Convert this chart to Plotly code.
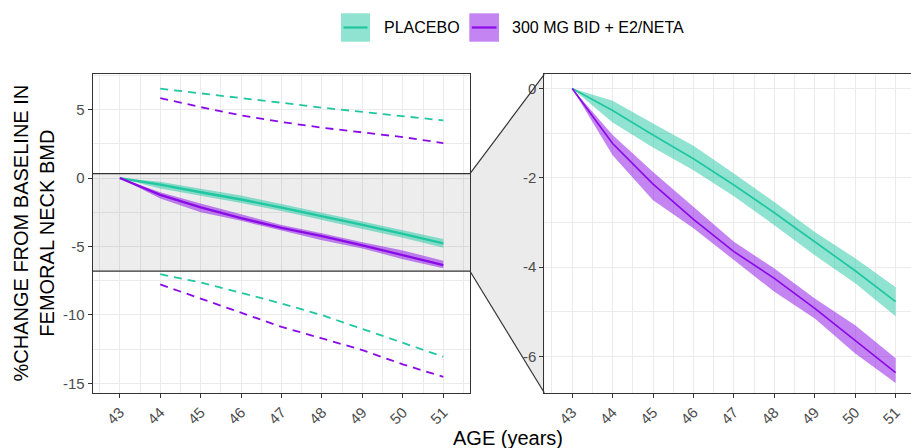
import plotly.graph_objects as go

# ---------------- data ----------------
ages = [43, 44, 45, 46, 47, 48, 49, 50, 51]
ages_pi = [44, 45, 46, 47, 48, 49, 50, 51]

placebo_mean = [0, -0.49, -1.04, -1.57, -2.16, -2.78, -3.43, -4.08, -4.77]
placebo_upper = [0, -0.27, -0.78, -1.28, -1.90, -2.54, -3.21, -3.80, -4.45]
placebo_lower = [0, -0.76, -1.32, -1.83, -2.41, -3.06, -3.73, -4.36, -5.10]

treat_mean = [0, -1.23, -2.14, -2.93, -3.65, -4.25, -4.92, -5.63, -6.36]
treat_upper = [0, -1.04, -1.87, -2.65, -3.43, -4.03, -4.70, -5.30, -6.04]
treat_lower = [0, -1.49, -2.50, -3.13, -3.84, -4.55, -5.15, -5.93, -6.59]

placebo_pi_upper = [6.53, 6.20, 5.84, 5.50, 5.14, 4.82, 4.50, 4.21]
placebo_pi_lower = [-7.03, -7.64, -8.39, -9.17, -10.02, -11.04, -12.09, -13.06]
treat_pi_upper = [5.84, 5.18, 4.58, 4.09, 3.68, 3.36, 2.99, 2.55]
treat_pi_lower = [-7.78, -8.80, -9.83, -10.88, -11.72, -12.58, -13.62, -14.53]

series_names = ["PLACEBO", "300 MG BID + E2/NETA"]
x_ticks = ages
x_ticktext = [str(a) for a in ages]
left_yticks = [5, 0, -5, -10, -15]
left_yticktext = ["5", "0", "-5", "-10", "-15"]
right_yticks = [0, -2, -4, -6]
right_yticktext = ["0", "-2", "-4", "-6"]
zoom_range = [-6.81, 0.32]

# ---------------- style ----------------
W, H = 911, 448
FONT = "Liberation Sans, Arial, Helvetica, sans-serif"
TEAL = "#20C7A1"
TEAL_FILL = "rgba(32,199,161,0.5)"
PURP = "#8A0BE6"
PURP_FILL = "rgba(138,11,230,0.5)"
DARK = "#333333"
GRID = "#EBEBEB"

left_dom_x = [92.7 / W, 470 / W]
right_dom_x = [544.3 / W, 1.0]
dom_y = [1 - 392.7 / H, 1 - 74.3 / H]
left_xrange = [42.33, 51.66]
right_xrange = [42.31, 51.38]
left_yrange = [-15.69, 7.58]

fig = go.Figure()


def ribbon(x, lo, hi, color, xa, ya):
    return go.Scatter(x=list(x) + list(x)[::-1], y=list(hi) + list(lo)[::-1],
                      fill="toself", fillcolor=color, line=dict(width=0),
                      mode="lines", hoverinfo="skip", showlegend=False,
                      xaxis=xa, yaxis=ya)


for xa, ya, lw in [("x", "y", 2.3), ("x2", "y2", 1.7)]:
    fig.add_trace(ribbon(ages, placebo_lower, placebo_upper, TEAL_FILL, xa, ya))
    fig.add_trace(ribbon(ages, treat_lower, treat_upper, PURP_FILL, xa, ya))
    fig.add_trace(go.Scatter(x=ages, y=placebo_mean, mode="lines",
                             line=dict(color=TEAL, width=lw), showlegend=False,
                             xaxis=xa, yaxis=ya))
    fig.add_trace(go.Scatter(x=ages, y=treat_mean, mode="lines",
                             line=dict(color=PURP, width=lw), showlegend=False,
                             xaxis=xa, yaxis=ya))

for yv, col in [(placebo_pi_upper, TEAL), (placebo_pi_lower, TEAL),
                (treat_pi_upper, PURP), (treat_pi_lower, PURP)]:
    fig.add_trace(go.Scatter(x=ages_pi, y=yv, mode="lines",
                             line=dict(color=col, width=1.8, dash="8px,6px"),
                             showlegend=False, xaxis="x", yaxis="y"))

axis_common = dict(showgrid=True, gridcolor=GRID, gridwidth=1.1, zeroline=False,
                   showline=True, linecolor=DARK, linewidth=1.1,
                   ticks="outside", ticklen=4, tickwidth=1.1, tickcolor=DARK,
                   tickfont=dict(family=FONT, size=15, color="#4D4D4D"))

fig.update_layout(
    width=W, height=H, margin=dict(l=0, r=0, t=0, b=0),
    plot_bgcolor="white", paper_bgcolor="white", showlegend=False,
    xaxis=dict(domain=left_dom_x, range=left_xrange, tickmode="array",
               tickvals=x_ticks, ticktext=x_ticktext, tickangle=-45, mirror=True,
               minor=dict(tick0=42.5, dtick=1, showgrid=True, gridcolor=GRID,
                          gridwidth=0.6, ticks=""),
               anchor="y", **axis_common),
    yaxis=dict(domain=dom_y, range=left_yrange, tickmode="array",
               tickvals=left_yticks, ticktext=left_yticktext, mirror=True,
               minor=dict(tick0=2.5, dtick=5, showgrid=True, gridcolor=GRID,
                          gridwidth=0.6, ticks=""),
               anchor="x", **axis_common),
    xaxis2=dict(domain=right_dom_x, range=right_xrange, tickmode="array",
                tickvals=x_ticks, ticktext=x_ticktext, tickangle=-45, mirror=True,
                minor=dict(tick0=42.5, dtick=1, showgrid=True, gridcolor=GRID,
                           gridwidth=0.6, ticks=""),
                anchor="y2", **axis_common),
    yaxis2=dict(domain=dom_y, range=zoom_range, tickmode="array",
                tickvals=right_yticks, ticktext=right_yticktext, mirror=False,
                minor=dict(tick0=-1, dtick=2, showgrid=True, gridcolor=GRID,
                           gridwidth=0.6, ticks=""),
                anchor="x2", **axis_common),
)

# zoom band in the left panel (semi-transparent, above the grid, below the data)
fig.add_shape(type="rect", xref="x", yref="y", x0=left_xrange[0], x1=left_xrange[1],
              y0=zoom_range[0], y1=zoom_range[1],
              fillcolor="rgba(0,0,0,0.07)", line=dict(width=0), layer="between")
for v in zoom_range:
    fig.add_shape(type="line", xref="x", yref="y", x0=left_xrange[0], x1=left_xrange[1],
                  y0=v, y1=v, line=dict(color=DARK, width=1.2), layer="above")


# connector polygon between panels (paper coords derived from axis ranges)
def left_paper_y(v):
    return dom_y[0] + (v - left_yrange[0]) / (left_yrange[1] - left_yrange[0]) * (dom_y[1] - dom_y[0])


xa1, xb0 = left_dom_x[1], right_dom_x[0]
yt, yb = left_paper_y(zoom_range[1]), left_paper_y(zoom_range[0])
path = (f"M {xa1},{yt} L {xb0},{dom_y[1]} L {xb0},{dom_y[0]} L {xa1},{yb} Z")
fig.add_shape(type="path", xref="paper", yref="paper", path=path,
              fillcolor="#EBEBEB", line=dict(width=0), layer="below")
fig.add_shape(type="line", xref="paper", yref="paper", x0=xa1, y0=yt, x1=xb0, y1=dom_y[1],
              line=dict(color=DARK, width=1.2))
fig.add_shape(type="line", xref="paper", yref="paper", x0=xa1, y0=yb, x1=xb0, y1=dom_y[0],
              line=dict(color=DARK, width=1.2))

# legend (ggplot-style square keys)
legend_cy = 1 - 27.5 / H
key_h = 28.4 / H
keys = [(341 / W, 370 / W, 381.5 / W, TEAL, TEAL_FILL, series_names[0]),
        (469.3 / W, 499 / W, 510 / W, PURP, PURP_FILL, series_names[1])]
for x0, x1, xt, lc, fc, name in keys:
    fig.add_shape(type="rect", xref="paper", yref="paper", x0=x0, x1=x1,
                  y0=legend_cy - key_h / 2, y1=legend_cy + key_h / 2,
                  fillcolor=fc, line=dict(width=0))
    fig.add_shape(type="line", xref="paper", yref="paper", x0=x0 + 2.5 / W, x1=x1 - 2.5 / W,
                  y0=legend_cy, y1=legend_cy, line=dict(color=lc, width=2.2))
    fig.add_annotation(x=xt, y=legend_cy, xref="paper", yref="paper", text=name,
                       showarrow=False, xanchor="left", yanchor="middle",
                       font=dict(family=FONT, size=16, color="black"))

# axis titles
fig.add_annotation(x=33 / W, y=(dom_y[0] + dom_y[1]) / 2, xref="paper", yref="paper",
                   text="%CHANGE FROM BASELINE IN<br>FEMORAL NECK BMD", textangle=-90,
                   showarrow=False, xanchor="center", yanchor="middle",
                   font=dict(family=FONT, size=20, color="black"))
fig.add_annotation(x=508 / W, y=1 - 425 / H, xref="paper", yref="paper",
                   text="AGE (years)", showarrow=False, xanchor="center", yanchor="top",
                   font=dict(family=FONT, size=20, color="black"))

fig.write_html("out.html")
